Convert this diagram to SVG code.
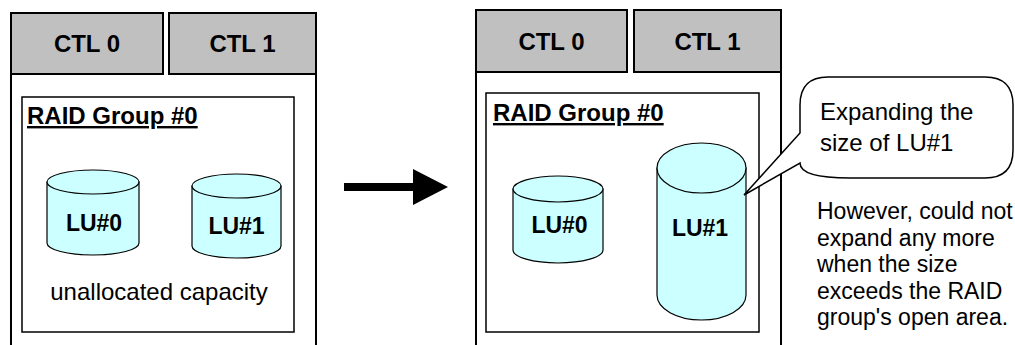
<svg xmlns="http://www.w3.org/2000/svg" width="1015" height="345" viewBox="0 0 1015 345">
<style>
  .frame{fill:none;stroke:#000;stroke-width:2}
  .ctl{fill:#c0c0c0;stroke:#000;stroke-width:2}
  .rg{fill:#fff;stroke:#000;stroke-width:1.5}
  .cyl{fill:#ccffff;stroke:#000;stroke-width:1.2}
  .b{font-family:"Liberation Sans",Arial,sans-serif;font-weight:bold;fill:#000}
  .r{font-family:"Liberation Sans",Arial,sans-serif;fill:#000}
  .ctlt{font-size:24px;text-anchor:middle}
  .lut{font-size:23px;text-anchor:middle}
  .rgt{font-size:24px;text-decoration:underline}
  .note{font-size:23px}
  .big{font-size:24px}
</style>
<rect width="1015" height="345" fill="#fff"/>

<g id="left-panel">
  <path class="frame" d="M11,13 V345 M316,13 V345"/>
  <g id="left-ctl0"><rect class="ctl" x="11" y="13" width="152" height="61"/><text class="b ctlt" x="87" y="52">CTL 0</text></g>
  <g id="left-ctl1"><rect class="ctl" x="169" y="13" width="147" height="61"/><text class="b ctlt" x="242.5" y="52">CTL 1</text></g>
  <g id="left-raid">
    <rect class="rg" x="22" y="97" width="272" height="235"/>
    <text class="b rgt" x="27" y="124">RAID Group #0</text>
    <text class="r big" x="159" y="300" text-anchor="middle">unallocated capacity</text>
  </g>
  <g id="left-lu0">
    <path class="cyl" d="M47,182 V243 A46,12 0 0 0 139,243 V182 Z"/>
    <ellipse class="cyl" cx="93" cy="182" rx="46" ry="12"/>
    <text class="b lut" x="94" y="231">LU#0</text>
  </g>
  <g id="left-lu1">
    <path class="cyl" d="M192,186 V246 A44.5,12 0 0 0 281,246 V186 Z"/>
    <ellipse class="cyl" cx="236.5" cy="186" rx="44.5" ry="12"/>
    <text class="b lut" x="236.5" y="234">LU#1</text>
  </g>
</g>

<g id="right-panel">
  <path class="frame" d="M476,10 V345 M781,10 V345"/>
  <g id="right-ctl0"><rect class="ctl" x="476" y="10" width="151" height="62"/><text class="b ctlt" x="551.5" y="50">CTL 0</text></g>
  <g id="right-ctl1"><rect class="ctl" x="634" y="10" width="147" height="62"/><text class="b ctlt" x="707.5" y="50">CTL 1</text></g>
  <g id="right-raid">
    <rect class="rg" x="486" y="93" width="273" height="239"/>
    <text class="b rgt" x="493" y="121">RAID Group #0</text>
  </g>
  <g id="right-lu0">
    <path class="cyl" d="M513,189 V250 A45,13 0 0 0 603,250 V189 Z"/>
    <ellipse class="cyl" cx="558" cy="189" rx="45" ry="13"/>
    <text class="b lut" x="559.5" y="233">LU#0</text>
  </g>
  <g id="right-lu1">
    <path class="cyl" d="M657,168 V295 A44.5,25 0 0 0 746,295 V168 Z"/>
    <ellipse class="cyl" cx="701.5" cy="168" rx="44.5" ry="25"/>
    <text class="b lut" x="700" y="236">LU#1</text>
  </g>
</g>

<g id="callout">
  <path fill="#fff" stroke="#000" stroke-width="1.5" d="M828,77 H985 Q1013,77 1013,105 V150 Q1013,178 985,178 H850 Q800,178 800,163 L744,195 L800,133 V105 Q800,77 828,77 Z"/>
  <text class="r big" x="820" y="120">Expanding the</text>
  <text class="r big" x="820" y="151">size of LU#1</text>
</g>

<g id="note">
  <text class="r note" x="817" y="219">However, could not</text>
  <text class="r note" x="817" y="245.5">expand any more</text>
  <text class="r note" x="817" y="272">when the size</text>
  <text class="r note" x="817" y="298.5">exceeds the RAID</text>
  <text class="r note" x="817" y="325">group's open area.</text>
</g>

<g id="connectors">
  <path id="arrow" fill="#000" d="M344,183 H413 V169 L448,187 L413,205 V191 H344 Z"/>
</g>
</svg>
